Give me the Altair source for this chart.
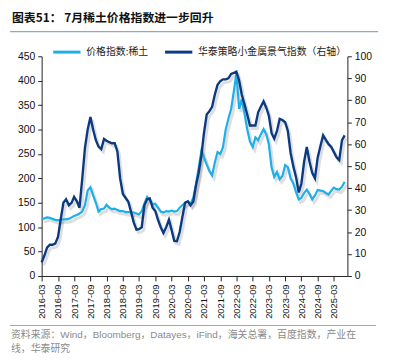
import altair as alt
import pandas as pd

# ---------------- data ----------------
months = pd.date_range("2016-03-01", "2025-07-01", freq="MS").strftime("%Y-%m-%d").tolist()

# 价格指数:稀土 (left axis)
price = [
    117, 118, 120, 119, 117, 115, 114, 115, 116, 116,                      # 2016-03..12
    117, 120, 123, 125, 128, 132, 145, 175, 182, 165, 150, 132,            # 2017
    137, 138, 146, 140, 137, 138, 135, 133, 133, 131, 131, 130,            # 2018
    130, 128, 126, 133, 148, 162, 155, 147, 148, 140, 132, 130,            # 2019
    133, 132, 134, 132, 133, 140, 145, 150, 152, 148, 160, 188,            # 2020
    222, 257, 243, 228, 215, 206, 232, 254, 250, 264, 300, 322,            # 2021
    342, 379, 415, 342, 362, 332, 300, 275, 264, 284, 278, 290,            # 2022
    301, 290, 270, 222, 203, 213, 198, 205, 227, 223, 200, 190,            # 2023
    172, 157, 160, 170, 177, 168, 157, 165, 176, 175, 174, 170,            # 2024
    167, 175, 181, 178, 177, 183, 193,                                     # 2025-01..07
]

# 华泰策略小金属景气指数 (right axis)
index = [
    6.2, 9.3, 12.9, 14.2, 14.2, 14.7, 17.8, 25.6, 33.3, 34.9,              # 2016-03..12
    32.2, 33.3, 36.0, 34.0, 31.1, 44.4, 58.2, 66.7, 72.4, 66.7, 61.8, 58.9,  # 2017
    57.8, 62.4, 61.6, 60.9, 60.4, 60.4, 56.7, 44.4, 37.3, 35.6, 33.8, 29.3,  # 2018
    24.4, 21.1, 21.3, 22.2, 32.2, 34.9, 35.3, 31.1, 29.6, 25.6, 22.2, 19.6,  # 2019
    22.2, 25.6, 21.1, 16.0, 15.8, 20.0, 26.7, 33.3, 34.0, 32.2, 33.8, 41.1,  # 2020
    47.0, 55.0, 65.0, 73.5, 75.0, 77.0, 82.5, 87.0, 88.7, 89.5, 89.5, 90.0,  # 2021
    92.0, 92.5, 93.0, 89.0, 82.5, 78.0, 73.5, 68.5, 68.5, 68.5, 74.5, 77.0,  # 2022
    79.5, 76.5, 73.0, 65.0, 62.5, 66.0, 71.5, 71.0, 70.0, 66.0, 56.0, 50.0,  # 2023
    45.0, 38.0, 42.0, 52.0, 58.7, 52.0, 47.0, 44.5, 54.0, 59.0, 64.0, 62.0,  # 2024
    60.0, 58.7, 56.5, 54.0, 52.7, 61.7, 64.0,                              # 2025-01..07
]

series_names = ["价格指数:稀土", "华泰策略小金属景气指数（右轴）"]
left_ticks = [0, 50, 100, 150, 200, 250, 300, 350, 400, 450]
right_ticks = [0, 10, 20, 30, 40, 50, 60, 70, 80, 90, 100]
x_tick_months = [(y, m) for y in range(2016, 2026) for m in (3, 9)][:-1]

title_text = "图表51： 7月稀土价格指数进一步回升"
source_lines = ["资料来源：Wind，Bloomberg，Datayes，iFind，海关总署，百度指数，产业在",
                "线，华泰研究"]

# ---------------- styling ----------------
LIGHT = "#1CAFEA"
DARK = "#0B3A80"
CJK = "Noto Sans CJK SC"
LAT = "Liberation Sans"
W, H = 309, 222

df_p = pd.DataFrame({"date": months, "value": price, "series": series_names[0]})
df_i = pd.DataFrame({"date": months, "value": index, "series": series_names[1]})

x_enc = alt.X(
    "utcyearmonth(date):T",
    scale=alt.Scale(domain=[alt.DateTime(year=2016, month=3, date=1, utc=True),
                            alt.DateTime(year=2025, month=8, date=1, utc=True)]),
    axis=alt.Axis(
        values=[alt.DateTime(year=y, month=m, date=1, utc=True) for y, m in x_tick_months],
        format="%Y-%m", labelAngle=270, labelFontSize=9.5, labelFont=LAT,
        tickSize=5, labelPadding=3, title=None, labelColor="#111",
        domainColor="#222", tickColor="#222",
    ),
    title=None,
)

color_enc = alt.Color(
    "series:N",
    scale=alt.Scale(domain=series_names, range=[LIGHT, DARK]),
    legend=alt.Legend(
        orient="none", legendX=10, legendY=-20, direction="horizontal", title=None,
        symbolType="stroke", symbolStrokeWidth=3, symbolSize=760,
        labelFont=CJK, labelFontSize=10, labelColor="#222", labelOffset=4,
        columnPadding=10, padding=0,
    ),
)

y_left = alt.Y("value:Q", scale=alt.Scale(domain=[0, 450]),
               axis=alt.Axis(values=left_ticks, orient="left", title=None,
                             labelFontSize=10.5, labelFont=LAT, labelColor="#111",
                             tickSize=4, labelPadding=3, domainColor="#222", tickColor="#222"))
y_right = alt.Y("value:Q", scale=alt.Scale(domain=[0, 100]),
                axis=alt.Axis(values=right_ticks, orient="right", title=None,
                              labelFontSize=10.5, labelFont=LAT, labelColor="#111",
                              tickSize=4, labelPadding=3, domainColor="#222", tickColor="#222"))
y_left_shadow = alt.Y("value:Q", scale=alt.Scale(domain=[0, 450]), axis=None)
y_right_shadow = alt.Y("value:Q", scale=alt.Scale(domain=[0, 100]), axis=None)

shadow_kw = dict(strokeWidth=3, opacity=0.13, xOffset=2, yOffset=3, color="#000")

shadow_p = alt.Chart(df_p).mark_line(**shadow_kw).encode(x=x_enc, y=y_left_shadow)
shadow_i = alt.Chart(df_i).mark_line(**shadow_kw).encode(x=x_enc, y=y_right_shadow)
line_p = alt.Chart(df_p).mark_line(strokeWidth=2.2).encode(x=x_enc, y=y_left, color=color_enc)
line_i = alt.Chart(df_i).mark_line(strokeWidth=2.4).encode(x=x_enc, y=y_right, color=color_enc)

# decorations: title, separator lines, source note
title_mark = alt.Chart(pd.DataFrame({"t": [title_text]})).mark_text(
    align="left", baseline="middle", font=CJK, fontSize=12, fontWeight="bold", color="#111"
).encode(x=alt.value(-30), y=alt.value(-39), text="t:N")

rule_top = alt.Chart(pd.DataFrame({"a": [0]})).mark_rule(color="#8FA8C6", strokeWidth=1.2).encode(
    x=alt.value(-32), x2=alt.value(340), y=alt.value(-25))
rule_bottom = alt.Chart(pd.DataFrame({"a": [0]})).mark_rule(color="#9AA6B4", strokeWidth=1).encode(
    x=alt.value(-32), x2=alt.value(338), y=alt.value(272))

src_font = f"{LAT}, {CJK}"
src1 = alt.Chart(pd.DataFrame({"t": [source_lines[0]]})).mark_text(
    align="left", baseline="middle", font=src_font, fontSize=10, color="#8A8A8A"
).encode(x=alt.value(-31), y=alt.value(282), text="t:N")
src2 = alt.Chart(pd.DataFrame({"t": [source_lines[1]]})).mark_text(
    align="left", baseline="middle", font=src_font, fontSize=10, color="#8A8A8A"
).encode(x=alt.value(-31), y=alt.value(296), text="t:N")

chart = alt.layer(
    shadow_p, shadow_i, line_p, line_i, title_mark, rule_top, rule_bottom, src1, src2
).resolve_scale(y="independent").properties(
    width=W, height=H,
    autosize=alt.AutoSizeParams(type="none"),
    padding={"left": 34, "top": 47, "right": 38, "bottom": 76},
).configure_view(stroke=None).configure_axis(grid=False)

chart.save("out.html", embed_options={"renderer": "svg", "actions": False})
